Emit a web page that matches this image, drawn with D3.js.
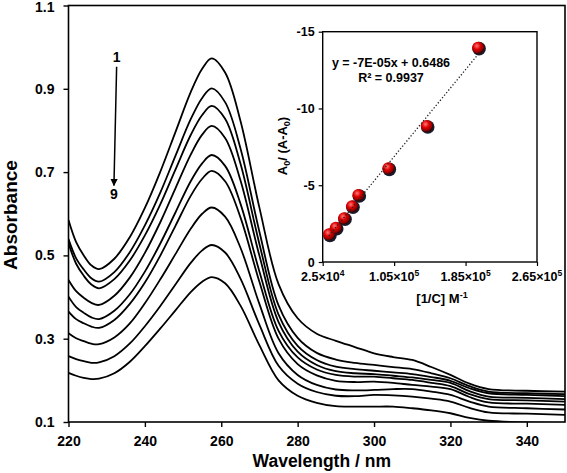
<!DOCTYPE html>
<html><head><meta charset="utf-8">
<script src="https://cdn.jsdelivr.net/npm/d3@7"></script>
<style>body{margin:0;background:#fff}svg{display:block}text{font-family:"Liberation Sans",Arial,sans-serif;font-weight:bold;fill:#000}</style>
</head><body><svg id="c" width="567" height="473"></svg>
<script>
const wavelengths = [220,222,224,226,228,232,236,240,244,248,252,255,257.5,261,265,270,275,280,285,290,295,300,305,310,315,320,325,330,340,350];
const spectrum1 = [0.585,0.532,0.500,0.476,0.467,0.492,0.543,0.614,0.700,0.796,0.892,0.948,0.973,0.939,0.824,0.614,0.431,0.349,0.312,0.295,0.280,0.265,0.256,0.249,0.232,0.213,0.192,0.179,0.175,0.173];
const spectrum2 = [0.539,0.493,0.466,0.445,0.437,0.460,0.507,0.572,0.650,0.739,0.827,0.878,0.901,0.868,0.758,0.556,0.380,0.302,0.266,0.250,0.242,0.237,0.232,0.227,0.217,0.205,0.186,0.173,0.169,0.167];
const spectrum3 = [0.529,0.480,0.451,0.430,0.421,0.443,0.487,0.548,0.622,0.706,0.789,0.837,0.859,0.828,0.721,0.527,0.358,0.283,0.249,0.233,0.227,0.223,0.219,0.215,0.208,0.199,0.181,0.169,0.165,0.162];
const spectrum4 = [0.441,0.414,0.398,0.386,0.381,0.403,0.446,0.506,0.579,0.661,0.742,0.790,0.811,0.782,0.681,0.499,0.340,0.269,0.237,0.222,0.217,0.215,0.211,0.207,0.201,0.194,0.174,0.161,0.158,0.155];
const spectrum5 = [0.401,0.376,0.362,0.351,0.347,0.367,0.406,0.461,0.528,0.603,0.678,0.721,0.741,0.715,0.625,0.461,0.319,0.255,0.226,0.213,0.209,0.209,0.205,0.201,0.194,0.186,0.167,0.155,0.152,0.149];
const spectrum6 = [0.365,0.347,0.337,0.329,0.326,0.345,0.383,0.435,0.499,0.571,0.643,0.684,0.703,0.678,0.592,0.436,0.300,0.239,0.212,0.199,0.196,0.197,0.194,0.189,0.185,0.179,0.160,0.147,0.144,0.141];
const spectrum7 = [0.313,0.301,0.294,0.288,0.287,0.303,0.336,0.385,0.442,0.503,0.564,0.600,0.615,0.593,0.519,0.383,0.265,0.213,0.189,0.178,0.176,0.177,0.179,0.179,0.173,0.165,0.149,0.137,0.133,0.130];
const spectrum8 = [0.258,0.251,0.246,0.242,0.243,0.258,0.288,0.330,0.378,0.430,0.482,0.512,0.525,0.507,0.445,0.333,0.235,0.192,0.172,0.163,0.162,0.165,0.164,0.161,0.156,0.149,0.134,0.123,0.120,0.117];
const spectrum9 = [0.218,0.211,0.206,0.203,0.204,0.217,0.244,0.282,0.324,0.368,0.412,0.437,0.448,0.433,0.380,0.284,0.200,0.163,0.146,0.138,0.137,0.137,0.137,0.133,0.128,0.121,0.110,0.103,0.099,0.098];
const spectra = [spectrum1,spectrum2,spectrum3,spectrum4,spectrum5,spectrum6,spectrum7,spectrum8,spectrum9];
const xTicks = [220,240,260,280,300,320,340];
const yTicks = [0.1,0.3,0.5,0.7,0.9,1.1];

const invConc = [32000,39600,48900,57800,64900,98500,141500,199000];
const ratio = [-1.80,-2.23,-2.85,-3.63,-4.36,-6.10,-8.86,-13.96];
const insetXTicks = [25000,105000,185000,265000];
const insetXTickLabels = [["2.5\u00d710","4"],["1.05\u00d710","5"],["1.85\u00d710","5"],["2.65\u00d710","5"]];
const insetYTicks = [0,-5,-10,-15];
const fitLabel = "y = -7E-05x + 0.6486";
const r2Label = "R\u00b2 = 0.9937";

const svg = d3.select("#c");
const m = {l:68.5, r:565, t:5.5, b:422};
const x = d3.scaleLinear().domain([220,350]).range([m.l,m.r]);
const y = d3.scaleLinear().domain([0.1,1.1]).range([m.b,m.t]);

svg.append("defs").append("clipPath").attr("id","clip").append("rect")
  .attr("x",m.l).attr("y",m.t).attr("width",m.r-m.l).attr("height",m.b-m.t);

const line = d3.line().x((d,i)=>x(wavelengths[i])).y(d=>y(d)).curve(d3.curveCatmullRom.alpha(0.5));
svg.append("g").attr("clip-path","url(#clip)").selectAll("path").data(spectra).join("path")
  .attr("d",line).attr("fill","none").attr("stroke","#000").attr("stroke-width",1.8);

// frame
svg.append("rect").attr("x",m.l).attr("y",m.t).attr("width",m.r-m.l).attr("height",m.b-m.t)
  .attr("fill","none").attr("stroke","#000").attr("stroke-width",1.6);

const xa = svg.append("g").attr("transform",`translate(0,${m.b})`)
  .call(d3.axisBottom(x).tickValues(xTicks).tickSize(5).tickPadding(9).tickFormat(d3.format("d")));
const ya = svg.append("g").attr("transform",`translate(${m.l},0)`)
  .call(d3.axisLeft(y).tickValues(yTicks).tickSize(5).tickPadding(9).tickFormat(d3.format(".1f")));
[xa,ya].forEach(a=>{a.select(".domain").remove();a.selectAll("line").attr("stroke","#000").attr("stroke-width",1.4);
  a.selectAll("text").attr("font-size",14).attr("font-family","Liberation Sans, Arial").attr("font-weight","bold").attr("fill","#000");});
ya.selectAll("text").filter(d=>d===1.1).attr("dy","0.45em");

svg.append("text").attr("x",(m.l+m.r)/2+5).attr("y",467).attr("text-anchor","middle").attr("font-size",17.5).text("Wavelength / nm");
svg.append("text").attr("transform","translate(17,215) rotate(-90)").attr("text-anchor","middle").attr("font-size",19).text("Absorbance");

// arrow annotation
svg.append("defs").append("marker").attr("id","ah").attr("viewBox","0 0 10 10").attr("refX",9).attr("refY",5)
  .attr("markerWidth",5).attr("markerHeight",6).attr("orient","auto")
  .append("path").attr("d","M0,0L10,5L0,10z").attr("fill","#000");
svg.append("line").attr("x1",x(232.6)).attr("y1",y(0.953)).attr("x2",x(231.9)).attr("y2",y(0.668))
  .attr("stroke","#000").attr("stroke-width",1.5).attr("marker-end","url(#ah)");
svg.append("text").attr("x",x(232.6)).attr("y",y(0.977)+5).attr("text-anchor","middle").attr("font-size",14).text("1");
svg.append("text").attr("x",x(231.9)).attr("y",y(0.647)+5).attr("text-anchor","middle").attr("font-size",14).text("9");

// inset
const ix = d3.scaleLinear().domain([25000,265000]).range([322.7,537]);
const iy = d3.scaleLinear().domain([0,-15]).range([262,31.7]);
svg.append("rect").attr("x",322.7).attr("y",31.7).attr("width",537-322.7).attr("height",262-31.7)
  .attr("fill","#fff").attr("stroke","#000").attr("stroke-width",1.4);
const ixa = svg.append("g").attr("transform","translate(0,262)")
  .call(d3.axisBottom(ix).tickValues(insetXTicks).tickSize(4).tickFormat(""));
const iya = svg.append("g").attr("transform","translate(322.7,0)")
  .call(d3.axisLeft(iy).tickValues(insetYTicks).tickSize(4).tickPadding(4).tickFormat(d=>String(d)));
[ixa,iya].forEach(a=>{a.select(".domain").remove();a.selectAll("line").attr("stroke","#000").attr("stroke-width",1.2);
  a.selectAll("text").attr("font-size",12.5).attr("font-family","Liberation Sans, Arial").attr("font-weight","bold").attr("fill","#000");});
insetXTicks.forEach((t,i)=>{
  const tx = svg.append("text").attr("x",ix(t)).attr("y",281).attr("text-anchor","middle").attr("font-size",12.5);
  tx.append("tspan").text(insetXTickLabels[i][0]);
  tx.append("tspan").attr("dy",-5).attr("font-size",8.5).text(insetXTickLabels[i][1]);
});
const xl = svg.append("text").attr("x",442).attr("y",303).attr("text-anchor","middle").attr("font-size",13);
xl.append("tspan").text("[1/C] M");
xl.append("tspan").attr("dy",-5).attr("font-size",9).text("-1");
const yl = svg.append("text").attr("transform","translate(287,146) rotate(-90)").attr("text-anchor","middle").attr("font-size",13);
yl.append("tspan").text("A");
yl.append("tspan").attr("dy",3).attr("font-size",9).text("0");
yl.append("tspan").attr("dy",-3).text("/ (A-A");
yl.append("tspan").attr("dy",3).attr("font-size",9).text("0");
yl.append("tspan").attr("dy",-3).text(")");

svg.append("text").attr("x",391).attr("y",66.5).attr("text-anchor","middle").attr("font-size",12.5).text(fitLabel);
svg.append("text").attr("x",391).attr("y",81.5).attr("text-anchor","middle").attr("font-size",12.5).text(r2Label);

const grad = svg.append("defs").append("radialGradient").attr("id","ball").attr("cx","40%").attr("cy","35%").attr("r","65%");
grad.append("stop").attr("offset","0%").attr("stop-color","#ff7a7a");
grad.append("stop").attr("offset","45%").attr("stop-color","#e00000");
grad.append("stop").attr("offset","85%").attr("stop-color","#8a0000");
grad.append("stop").attr("offset","100%").attr("stop-color","#300000");
const pts = invConc.map((v,i)=>({x:v,y:ratio[i]}));
svg.append("g").selectAll("circle.sh").data(pts).join("circle")
  .attr("cx",d=>ix(d.x)+1).attr("cy",d=>iy(d.y)+1).attr("r",6.8).attr("fill","#1a1a2a");
svg.append("g").selectAll("circle.b").data(pts).join("circle")
  .attr("cx",d=>ix(d.x)).attr("cy",d=>iy(d.y)).attr("r",6).attr("fill","url(#ball)");

// least squares trendline through the data
const mx = d3.mean(invConc), my = d3.mean(ratio);
const slope = d3.sum(invConc.map((v,i)=>(v-mx)*(ratio[i]-my)))/d3.sum(invConc.map(v=>(v-mx)*(v-mx)));
const icpt = my - slope*mx;
const x0 = d3.min(invConc), x1 = d3.max(invConc);
svg.append("line").attr("x1",ix(x0)).attr("y1",iy(slope*x0+icpt)).attr("x2",ix(x1)).attr("y2",iy(slope*x1+icpt))
  .attr("stroke","#222").attr("stroke-width",1.3).attr("stroke-dasharray","1.3,2");
</script></body></html>
